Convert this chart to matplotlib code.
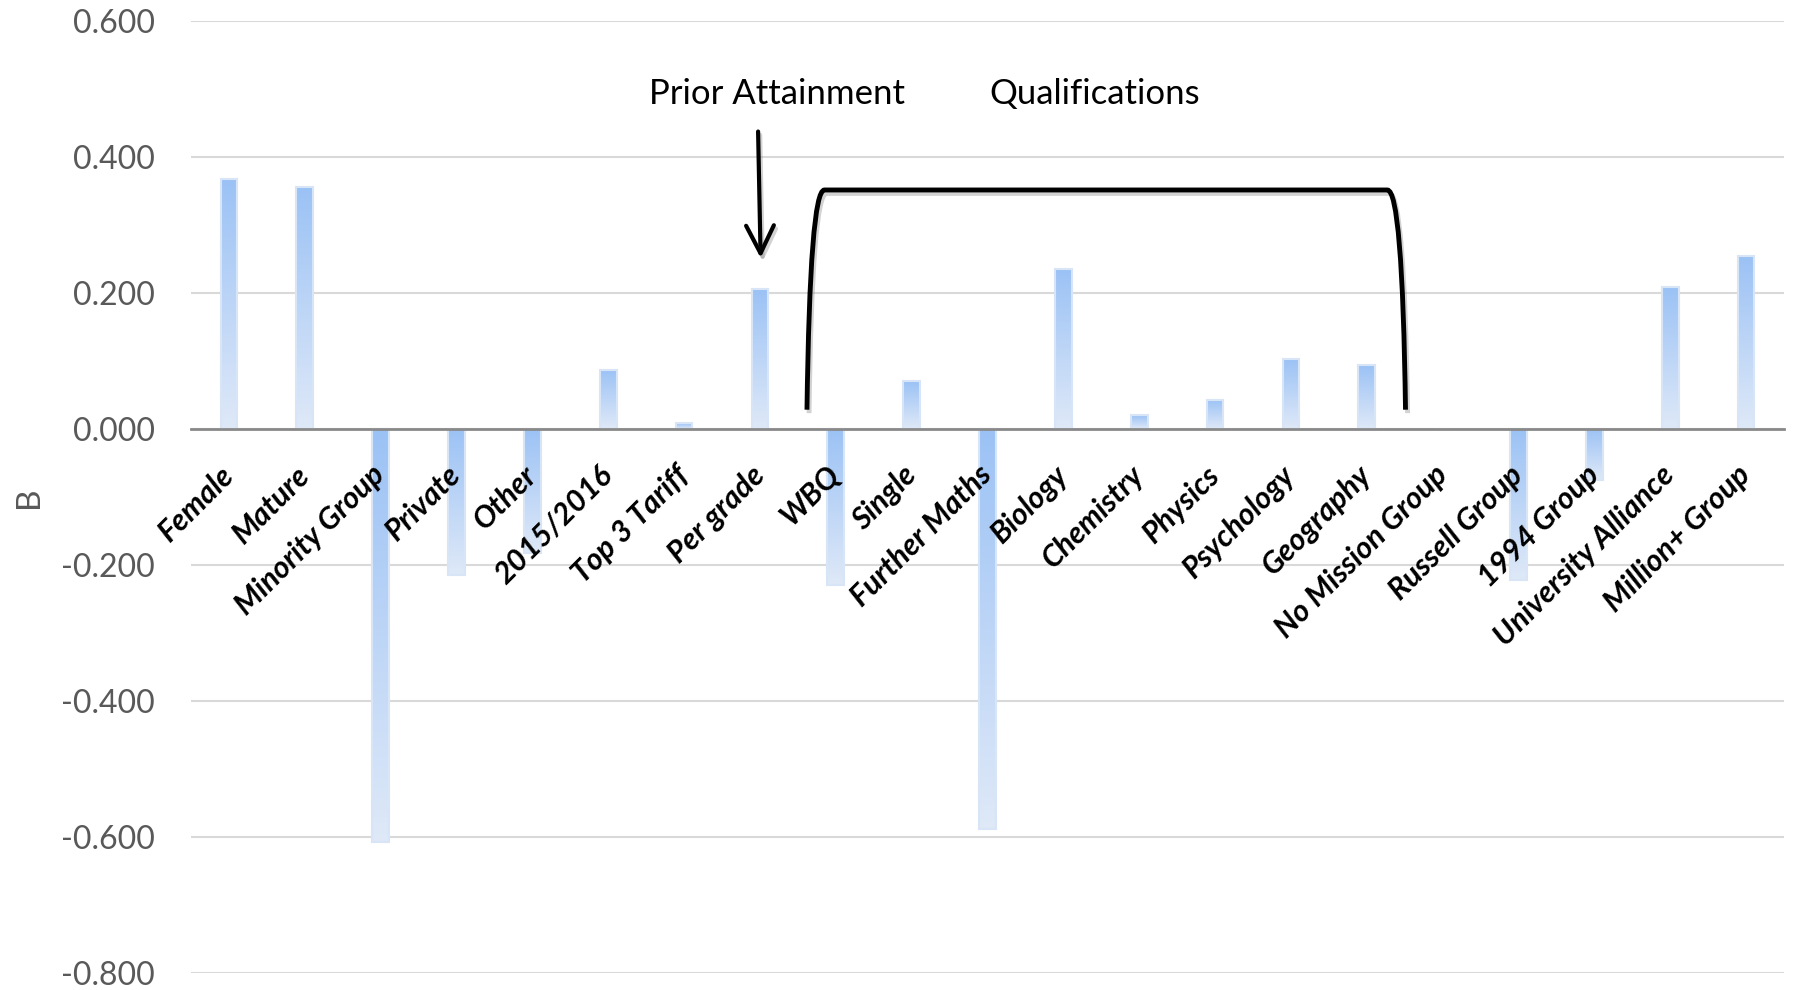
import matplotlib
matplotlib.use('Agg')
import matplotlib.pyplot as plt
import numpy as np
from matplotlib.colors import LinearSegmentedColormap
from matplotlib.path import Path
from matplotlib.patches import PathPatch
import matplotlib.patheffects as pe

plt.rcParams['font.family'] = ['Lato', 'DejaVu Sans']

categories = ['Female', 'Mature', 'Minority Group', 'Private', 'Other', '2015/2016',
              'Top 3 Tariff', 'Per grade', 'WBQ', 'Single', 'Further Maths', 'Biology',
              'Chemistry', 'Physics', 'Psychology', 'Geography', 'No Mission Group',
              'Russell Group', '1994 Group', 'University Alliance', 'Million+ Group']
coef_b = [0.367, 0.355, -0.607, -0.215, -0.183, 0.087,
          0.008, 0.205, -0.230, 0.070, -0.589, 0.235,
          0.020, 0.043, 0.102, 0.093, 0.000,
          -0.222, -0.075, 0.208, 0.254]
y_ticks = [0.6, 0.4, 0.2, 0.0, -0.2, -0.4, -0.6, -0.8]

fig = plt.figure(figsize=(17.95, 9.9), dpi=100)
ax = fig.add_axes([0.1064, 0.0172, 0.8875, 0.962])

x = np.arange(len(categories))
bar_w = 0.22

# gradient fill: darker at the top of each bar, fading downwards
cmap = LinearSegmentedColormap.from_list('bar', ['#dfe9f8', '#9bc2f5'])
grad = np.linspace(0, 1, 256).reshape(-1, 1)
for xi, v in zip(x, coef_b):
    if v == 0:
        continue
    ax.imshow(grad, extent=[xi - bar_w / 2, xi + bar_w / 2, min(0, v), max(0, v)],
              origin='lower', cmap=cmap, aspect='auto', zorder=2, interpolation='bilinear')
ax.bar(x, coef_b, width=bar_w, color='none', edgecolor='#d8e5f6', linewidth=1.5, zorder=3)

ax.set_xlim(-0.5, len(categories) - 0.5)
ax.set_ylim(-0.8, 0.6)
ax.set_yticks(y_ticks)
ax.set_yticklabels(['%.3f' % t for t in y_ticks])
ax.yaxis.grid(True, color='#d9d9d9', linewidth=1.5)
ax.set_axisbelow(True)
# category labels sit on top of the bars
ax.xaxis.set_zorder(6)

for s in ['top', 'right', 'left']:
    ax.spines[s].set_visible(False)
ax.spines['bottom'].set_position(('data', 0))
ax.spines['bottom'].set_color('#898989')
ax.spines['bottom'].set_linewidth(2)
ax.spines['bottom'].set_zorder(4)

ax.set_xticks(x)
ax.set_xticklabels(categories, rotation=45, ha='right', va='center',
                   rotation_mode='anchor', fontsize=22, fontweight='bold', fontstyle='italic')
ax.tick_params(axis='x', length=0, pad=30)
ax.tick_params(axis='y', length=0, pad=26, labelsize=23, labelcolor='#595959')

ax.set_ylabel('B', fontsize=24, color='#595959', labelpad=0)
ax.yaxis.set_label_coords(-0.092, 0.5)

# annotations
shadow = [pe.SimpleLineShadow(offset=(1.5, -2.5), shadow_color='gray', alpha=0.35), pe.Normal()]
ax.text(7.22, 0.492, 'Prior Attainment', fontsize=25, ha='center', va='center', zorder=7)
ax.text(11.41, 0.492, 'Qualifications', fontsize=25, ha='center', va='center', zorder=7)
ax.annotate('', xy=(7.01, 0.247), xytext=(6.975, 0.441),
            arrowprops=dict(arrowstyle='->,head_length=0.5,head_width=0.25', lw=3, color='black',
                            mutation_scale=40, path_effects=shadow), zorder=7)

verts = [(7.62, 0.028), (7.66, 0.351), (7.85, 0.351),
         (15.27, 0.351),
         (15.47, 0.351), (15.51, 0.028)]
codes = [Path.MOVETO, Path.CURVE3, Path.CURVE3, Path.LINETO, Path.CURVE3, Path.CURVE3]
bracket = PathPatch(Path(verts, codes), facecolor='none', edgecolor='black', lw=3.5,
                    zorder=7, path_effects=shadow)
ax.add_patch(bracket)

fig.savefig('out.png', dpi=100)
